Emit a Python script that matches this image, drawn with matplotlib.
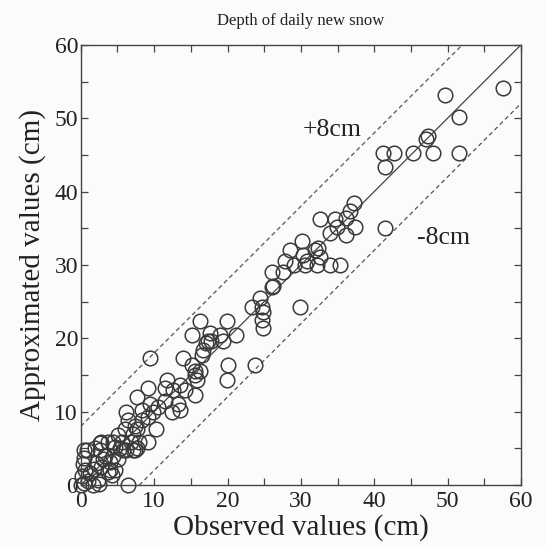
import numpy as np
import matplotlib
matplotlib.use("Agg")
import matplotlib.pyplot as plt

plt.rcParams['font.family'] = ['Liberation Serif', 'DejaVu Serif']

# observed / approximated depth of daily new snow (cm)
observed = [
    0.0, 0.4, 1.6, 2.5, 6.5, 0.5, 0.5, 0.3, 0.6, 0.2, 1.2, 1.8, 2.3, 1.0,
    2.1, 3.0, 4.0, 4.6, 4.2, 3.7, 0.8, 1.9, 2.6, 3.7, 4.6, 5.3, 6.2, 7.1, 8.0,
    2.8, 3.3, 2.6, 4.4, 5.1, 2.8, 4.0, 5.1, 4.4, 5.6, 6.9, 7.6, 5.8, 7.4,
    6.0, 7.6, 7.1, 9.2, 6.2, 6.5, 8.3, 7.4, 10.3, 9.2, 8.3, 9.9, 12.4, 13.5,
    9.4, 11.5, 13.3, 10.5, 7.6, 9.2, 11.5, 12.6, 11.7, 13.5, 15.6, 15.6, 14.2,
    9.4, 13.9, 15.1, 15.6, 16.2, 15.8, 16.2, 19.9, 15.1, 17.6, 19.0, 21.2,
    17.4, 19.4, 16.7, 16.5, 17.8, 17.1, 20.1, 19.9, 23.7,
    23.3, 24.4, 24.7, 24.9, 24.7, 24.9, 26.0, 29.9, 26.0, 27.6, 26.2,
    27.8, 29.0, 30.3, 30.8, 30.6, 32.2, 34.0, 35.3, 32.6, 30.1, 28.5, 31.9, 32.4,
    34.0, 36.2, 37.4, 34.9, 32.6, 34.7, 36.2, 37.2, 36.7, 41.5,
    41.2, 42.7, 45.3, 48.0, 51.5, 41.5, 47.0, 47.3, 49.7, 51.5, 57.6,
]
approximated = [
    0.0, 0.3, 0.0, 0.1, 0.0, 4.8, 3.7, 2.8, 2.1, 1.2, 1.6, 2.2, 0.7, 0.6,
    3.0, 3.6, 2.1, 2.0, 1.4, 1.8, 4.8, 5.0, 5.7, 5.9, 5.2, 5.0, 4.8, 4.8, 5.9,
    5.9, 3.9, 4.8, 3.9, 3.6, 2.5, 3.2, 6.8, 5.9, 5.9, 5.9, 5.0, 4.8, 4.8,
    7.7, 7.7, 7.0, 5.9, 10.0, 8.9, 8.9, 8.0, 7.7, 9.3, 10.2, 10.0, 10.0, 10.2,
    11.1, 11.4, 11.1, 10.7, 12.0, 13.2, 13.2, 13.0, 14.3, 13.6, 15.0, 12.3, 13.0,
    17.3, 17.3, 16.4, 15.5, 15.5, 14.3, 22.3, 22.3, 20.5, 20.7, 20.5, 20.5,
    19.6, 19.6, 18.4, 17.7, 19.6, 19.4, 16.4, 14.3, 16.4,
    24.3, 25.5, 24.3, 23.6, 22.5, 21.4, 27.0, 24.3, 29.1, 29.1, 27.1,
    30.5, 30.0, 31.4, 30.5, 30.0, 30.0, 30.0, 30.0, 31.1, 33.2, 32.1, 32.1, 32.3,
    34.3, 34.1, 35.2, 35.2, 36.2, 36.2, 36.4, 38.4, 37.3, 35.0,
    45.3, 45.3, 45.3, 45.3, 45.3, 43.4, 47.2, 47.6, 53.2, 50.2, 54.1,
]

offset = 8
line_x = [0, 60]

fig = plt.figure(figsize=(5.46, 5.48), dpi=100, facecolor='#fbfbf9')
ax = fig.add_axes([0.148, 0.115, 0.806, 0.803])
ax.set_facecolor('#fbfbf9')

ax.plot(line_x, line_x, color='#444444', lw=0.9)
ax.plot(line_x, [v + offset for v in line_x], color='#555555', lw=0.9,
        ls=(0, (3.5, 2.5)))
ax.plot(line_x, [v - offset for v in line_x], color='#555555', lw=0.9,
        ls=(0, (3.5, 2.5)))
ax.plot(observed, approximated, 'o', ms=10.5, mfc='none', mec='#3a3a3a',
        mew=1.1, clip_on=False)

ax.text(30.2, 48.4, '+8cm', fontsize=18.5, va='center', ha='left',
        color='#222222')
ax.text(45.8, 33.7, '-8cm', fontsize=18.5, va='center', ha='left',
        color='#222222')

ax.set_xlim(0, 60)
ax.set_ylim(0, 60)
ax.set_xticks(np.arange(0, 61, 10))
ax.set_yticks(np.arange(0, 61, 10))
ax.set_xticks(np.arange(0, 61, 5), minor=True)
ax.set_yticks(np.arange(0, 61, 5), minor=True)
ax.tick_params(which='both', direction='in', top=True, right=True,
               color='#444444', width=0.9, labelsize=17, labelcolor='#222222')
ax.tick_params(which='major', length=5, pad=4)
ax.tick_params(which='minor', length=5)
ax.tick_params(axis='y', pad=2)
for s in ax.spines.values():
    s.set_color('#444444')
    s.set_linewidth(1.0)

ax.set_xlabel('Observed values (cm)', fontsize=21, color='#222222',
              labelpad=2)
ax.set_ylabel('Approximated values (cm)', fontsize=21, color='#222222',
              labelpad=6)
ax.set_title('Depth of daily new snow', fontsize=12, color='#222222',
             pad=14)

fig.savefig('out.png', dpi=100, facecolor=fig.get_facecolor())
